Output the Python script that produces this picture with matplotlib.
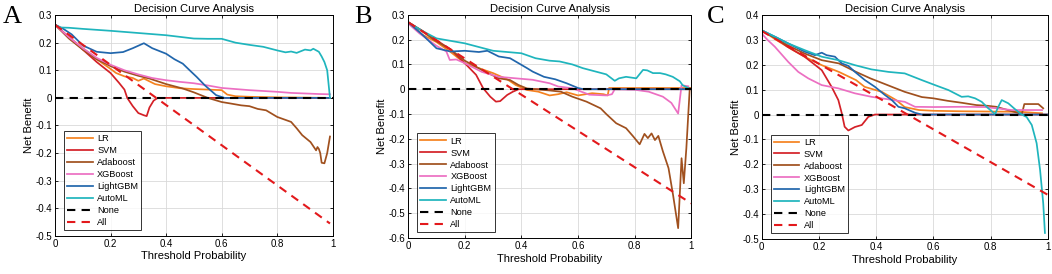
"""
Decision curve analysis for the six models, three cohorts (A, B, C).
"""
import matplotlib

matplotlib.use("Agg")
import matplotlib.pyplot as plt
from matplotlib.ticker import FuncFormatter, MultipleLocator

# ---------------- data ----------------
MODELS = ["LR", "SVM", "Adaboost", "XGBoost", "LightGBM", "AutoML"]

# Panel A
A_LR_X = [0, 0.05, 0.1, 0.15, 0.2, 0.22, 0.25, 0.28, 0.3, 0.32, 0.36, 0.4, 0.45, 0.5, 0.55, 0.6, 0.62, 0.65, 0.7, 0.8, 0.9, 0.99]
A_LR_Y = [0.265, 0.22, 0.18, 0.14, 0.105, 0.09, 0.078, 0.072, 0.062, 0.07, 0.05, 0.042, 0.035, 0.032, 0.03, 0.028, 0.012, 0.006, 0.004, 0.002, 0.001, 0]
A_SVM_X = [0, 0.05, 0.1, 0.15, 0.2, 0.23, 0.25, 0.26, 0.28, 0.3, 0.32, 0.33, 0.34, 0.355, 0.37, 0.4, 0.6, 0.8, 0.99]
A_SVM_Y = [0.265, 0.22, 0.175, 0.13, 0.09, 0.055, 0.03, 0.0, -0.03, -0.055, -0.063, -0.066, -0.035, -0.01, 0, 0, 0, 0, 0]
A_ADA_X = [0, 0.05, 0.1, 0.15, 0.2, 0.25, 0.3, 0.34, 0.4, 0.46, 0.5, 0.55, 0.6, 0.63, 0.67, 0.7, 0.73, 0.76, 0.8, 0.85, 0.87, 0.89,
           0.92, 0.94, 0.945, 0.95, 0.955, 0.96, 0.97, 0.98, 0.99]
A_ADA_Y = [0.265, 0.215, 0.175, 0.14, 0.115, 0.095, 0.08, 0.07, 0.05, 0.034, 0.02, 0.0, -0.015, -0.02, -0.027, -0.03, -0.04, -0.045,
           -0.069, -0.087, -0.11, -0.135, -0.16, -0.19, -0.178, -0.185, -0.2, -0.235, -0.237, -0.2, -0.14]
A_XGB_X = [0, 0.05, 0.1, 0.15, 0.2, 0.25, 0.3, 0.35, 0.4, 0.45, 0.5, 0.55, 0.6, 0.65, 0.7, 0.75, 0.8, 0.85, 0.9, 0.95, 0.99]
A_XGB_Y = [0.265, 0.22, 0.18, 0.145, 0.12, 0.1, 0.085, 0.072, 0.064, 0.058, 0.053, 0.045, 0.036, 0.032, 0.028, 0.025, 0.022, 0.018,
           0.016, 0.014, 0.013]
A_GBM_X = [0, 0.03, 0.06, 0.1, 0.15, 0.2, 0.245, 0.28, 0.32, 0.35, 0.4, 0.43, 0.46, 0.49, 0.51, 0.54, 0.58, 0.61, 0.7, 0.8, 0.9, 0.99]
A_GBM_Y = [0.265, 0.25, 0.23, 0.19, 0.167, 0.162, 0.166, 0.18, 0.198, 0.18, 0.16, 0.14, 0.124, 0.095, 0.076, 0.045, 0.01, 0, 0, 0, 0, 0]
A_AUTO_X = [0, 0.02, 0.05, 0.1, 0.2, 0.3, 0.4, 0.5, 0.55, 0.6, 0.65, 0.7, 0.75, 0.8, 0.83, 0.85, 0.87, 0.9, 0.92, 0.93, 0.95, 0.96,
            0.97, 0.98, 0.99]
A_AUTO_Y = [0.265, 0.255, 0.254, 0.25, 0.243, 0.235, 0.227, 0.215, 0.214, 0.214, 0.2, 0.192, 0.185, 0.172, 0.165, 0.168, 0.163,
            0.175, 0.172, 0.178, 0.167, 0.15, 0.13, 0.1, 0.0]
A_ALL_X = [0, 0.99]
A_ALL_Y = [0.265, -0.455]

# Panel B
B_LR_X = [0, 0.05, 0.1, 0.15, 0.2, 0.25, 0.3, 0.35, 0.38, 0.42, 0.46, 0.5, 0.53, 0.56, 0.6, 0.65, 0.69, 0.705, 0.71, 0.8, 0.9, 1.0]
B_LR_Y = [0.27, 0.22, 0.19, 0.15, 0.105, 0.085, 0.065, 0.04, 0.017, -0.003, -0.01, -0.025, -0.02, -0.012, -0.025, -0.016, -0.02,
          -0.025, 0.005, 0.005, 0.005, 0.005]
B_SVM_X = [0, 0.05, 0.09, 0.15, 0.2, 0.24, 0.265, 0.29, 0.31, 0.325, 0.35, 0.37, 0.39, 0.5, 0.7, 1.0]
B_SVM_Y = [0.27, 0.235, 0.205, 0.16, 0.105, 0.058, 0.004, -0.03, -0.05, -0.048, -0.023, -0.01, 0, 0, 0, 0]
B_ADA_X = [0, 0.05, 0.09, 0.15, 0.2, 0.26, 0.32, 0.36, 0.39, 0.42, 0.45, 0.5, 0.54, 0.58, 0.63, 0.68, 0.7, 0.735, 0.77, 0.795,
           0.818, 0.835, 0.847, 0.86, 0.872, 0.884, 0.9, 0.92, 0.936, 0.954, 0.966, 0.974, 0.983, 0.995]
B_ADA_Y = [0.27, 0.235, 0.2, 0.16, 0.115, 0.078, 0.044, 0.037, 0.017, 0.003, 0.0, -0.005, -0.01, -0.03, -0.05, -0.077, -0.1,
           -0.137, -0.157, -0.19, -0.222, -0.18, -0.197, -0.178, -0.205, -0.188, -0.25, -0.318, -0.426, -0.56, -0.278, -0.379,
           -0.238, 0.004]
B_XGB_X = [0, 0.04, 0.1, 0.135, 0.147, 0.17, 0.2, 0.26, 0.32, 0.38, 0.44, 0.5, 0.53, 0.58, 0.64, 0.7, 0.72, 0.73, 0.8, 0.85, 0.9,
           0.93, 0.954, 0.966, 0.99]
B_XGB_Y = [0.265, 0.225, 0.175, 0.152, 0.118, 0.12, 0.105, 0.07, 0.05, 0.044, 0.038, 0.024, 0.011, 0.004, -0.022, -0.025, -0.02, 0,
           -0.002, -0.01, -0.03, -0.055, -0.098, 0.016, 0.012]
B_GBM_X = [0, 0.05, 0.1, 0.15, 0.2, 0.25, 0.28, 0.32, 0.36, 0.39, 0.42, 0.44, 0.48, 0.52, 0.56, 0.6, 0.62, 0.8, 1.0]
B_GBM_Y = [0.27, 0.22, 0.165, 0.152, 0.155, 0.15, 0.155, 0.132, 0.125, 0.105, 0.085, 0.071, 0.05, 0.04, 0.024, 0.005, 0, 0, 0]
B_AUTO_X = [0, 0.05, 0.1, 0.15, 0.2, 0.25, 0.3, 0.35, 0.4, 0.45, 0.5, 0.535, 0.58, 0.617, 0.65, 0.7, 0.73, 0.745, 0.77, 0.806,
            0.83, 0.845, 0.865, 0.89, 0.91, 0.935, 0.96, 0.97, 0.99]
B_AUTO_Y = [0.27, 0.235, 0.205, 0.195, 0.185, 0.17, 0.155, 0.15, 0.145, 0.125, 0.115, 0.112, 0.1, 0.085, 0.075, 0.06, 0.034,
            0.044, 0.05, 0.044, 0.078, 0.076, 0.065, 0.065, 0.06, 0.05, 0.032, 0.016, 0.005]
B_ALL_X = [0, 1.0]
B_ALL_Y = [0.27, -0.46]

# Panel C
C_LR_X = [0, 0.05, 0.1, 0.15, 0.21, 0.27, 0.33, 0.36, 0.42, 0.47, 0.5, 0.55, 0.6, 0.7, 0.8, 0.9, 0.98]
C_LR_Y = [0.338, 0.3, 0.265, 0.232, 0.198, 0.171, 0.138, 0.111, 0.091, 0.058, 0.03, 0.018, 0.015, 0.013, 0.012, 0.011, 0.005]
C_SVM_X = [0, 0.05, 0.09, 0.15, 0.21, 0.245, 0.268, 0.28, 0.29, 0.303, 0.326, 0.35, 0.373, 0.396, 0.5, 0.7, 1.0]
C_SVM_Y = [0.338, 0.305, 0.272, 0.232, 0.178, 0.11, 0.058, 0.005, -0.049, -0.064, -0.05, -0.042, -0.009, 0, 0, 0, 0]
C_ADA_X = [0, 0.05, 0.09, 0.15, 0.21, 0.27, 0.33, 0.38, 0.44, 0.5, 0.56, 0.6, 0.65, 0.7, 0.75, 0.79, 0.82, 0.86, 0.9, 0.91, 0.918,
           0.93, 0.967, 0.984]
C_ADA_Y = [0.338, 0.305, 0.278, 0.245, 0.218, 0.205, 0.171, 0.145, 0.118, 0.091, 0.07, 0.065, 0.055, 0.047, 0.038, 0.035, 0.031,
           0.018, 0.005, 0.005, 0.042, 0.042, 0.042, 0.025]
C_XGB_X = [0, 0.02, 0.046, 0.093, 0.128, 0.163, 0.21, 0.268, 0.326, 0.384, 0.443, 0.5, 0.536, 0.6, 0.7, 0.78, 0.82, 0.874, 0.98]
C_XGB_Y = [0.325, 0.3, 0.272, 0.211, 0.171, 0.145, 0.118, 0.105, 0.085, 0.071, 0.061, 0.051, 0.031, 0.03, 0.031, 0.03, 0.025,
           0.018, 0.018]
C_GBM_X = [0, 0.05, 0.093, 0.151, 0.186, 0.21, 0.227, 0.256, 0.28, 0.303, 0.326, 0.361, 0.396, 0.431, 0.455, 0.478, 0.5, 0.536,
           0.56, 0.7, 0.9, 1.0]
C_GBM_Y = [0.338, 0.31, 0.285, 0.252, 0.238, 0.248, 0.238, 0.232, 0.205, 0.195, 0.171, 0.138, 0.111, 0.078, 0.058, 0.031, 0.025,
           0.007, 0, 0, 0, 0]
C_AUTO_X = [0, 0.05, 0.093, 0.151, 0.21, 0.268, 0.326, 0.384, 0.443, 0.5, 0.56, 0.606, 0.653, 0.699, 0.722, 0.746, 0.769, 0.792,
            0.816, 0.827, 0.839, 0.862, 0.886, 0.909, 0.926, 0.944, 0.961, 0.973, 0.984, 0.99]
C_AUTO_Y = [0.338, 0.31, 0.285, 0.258, 0.232, 0.218, 0.198, 0.181, 0.171, 0.165, 0.138, 0.118, 0.098, 0.071, 0.073, 0.065, 0.051,
            0.025, 0.002, 0.031, 0.058, 0.045, 0.021, 0.0, -0.01, -0.042, -0.115, -0.222, -0.355, -0.475]
C_ALL_X = [0, 1.0]
C_ALL_Y = [0.335, -0.322]

NONE_X = [0, 1]
NONE_Y = [0, 0]

COLORS = ["#f5821f", "#d42027", "#a0501e", "#ec6fc2", "#2166ac", "#1fb5bd"]

plt.rcParams["font.family"] = ["Liberation Sans", "DejaVu Sans"]


def draw_panel(ax, curves, all_x, all_y, ylim, letter):
    # model curves first, reference lines on top
    for (xs, ys), name, col in zip(curves, MODELS, COLORS):
        ax.plot(xs, ys, color=col, lw=1.25, label=name)
    ax.plot(NONE_X, NONE_Y, "--", color="black", lw=1.5, dashes=(4, 3), label="None")
    ax.plot(all_x, all_y, "--", color="#e3191c", lw=1.5, dashes=(4, 3), label="All")

    ax.set_xlim(0, 1)
    ax.set_ylim(*ylim)
    ax.xaxis.set_major_locator(MultipleLocator(0.2))
    ax.yaxis.set_major_locator(MultipleLocator(0.1))
    fmt = FuncFormatter(lambda v, p: "%g" % round(v, 2))
    ax.xaxis.set_major_formatter(fmt)
    ax.yaxis.set_major_formatter(fmt)
    ax.tick_params(direction="in", top=True, right=True, labelsize=7, length=2.5, width=0.6, pad=2)
    ax.grid(True, color="#d9d9d9", lw=0.6)
    ax.set_axisbelow(True)
    for s in ax.spines.values():
        s.set_linewidth(0.7)

    ax.set_title("Decision Curve Analysis", fontsize=8, pad=2)
    ax.set_xlabel("Threshold Probability", fontsize=8, labelpad=2)
    ax.set_ylabel("Net Benefit", fontsize=8, labelpad=1)

    leg = ax.legend(loc="lower left", fontsize=6.6, frameon=True, fancybox=False, edgecolor="black",
                    handlelength=2.8, labelspacing=0.32, borderpad=0.35, handletextpad=0.5,
                    bbox_to_anchor=(0.015, 0.005))
    leg.get_frame().set_linewidth(0.7)

    ax.text(-0.19, 1.04, letter, transform=ax.transAxes, fontsize=19,
            family=["Liberation Serif", "DejaVu Serif"], va="top", ha="left")


fig = plt.figure(figsize=(10.52, 2.74), dpi=100)

ax_a = fig.add_axes([0.0523, 0.139, 0.264, 0.806])
ax_b = fig.add_axes([0.388, 0.131, 0.269, 0.815])
ax_c = fig.add_axes([0.724, 0.127, 0.272, 0.819])

draw_panel(ax_a,
           [(A_LR_X, A_LR_Y), (A_SVM_X, A_SVM_Y), (A_ADA_X, A_ADA_Y),
            (A_XGB_X, A_XGB_Y), (A_GBM_X, A_GBM_Y), (A_AUTO_X, A_AUTO_Y)],
           A_ALL_X, A_ALL_Y, (-0.5, 0.3), "A")
draw_panel(ax_b,
           [(B_LR_X, B_LR_Y), (B_SVM_X, B_SVM_Y), (B_ADA_X, B_ADA_Y),
            (B_XGB_X, B_XGB_Y), (B_GBM_X, B_GBM_Y), (B_AUTO_X, B_AUTO_Y)],
           B_ALL_X, B_ALL_Y, (-0.6, 0.3), "B")
draw_panel(ax_c,
           [(C_LR_X, C_LR_Y), (C_SVM_X, C_SVM_Y), (C_ADA_X, C_ADA_Y),
            (C_XGB_X, C_XGB_Y), (C_GBM_X, C_GBM_Y), (C_AUTO_X, C_AUTO_Y)],
           C_ALL_X, C_ALL_Y, (-0.5, 0.4), "C")

fig.savefig("out.png", dpi=100)
